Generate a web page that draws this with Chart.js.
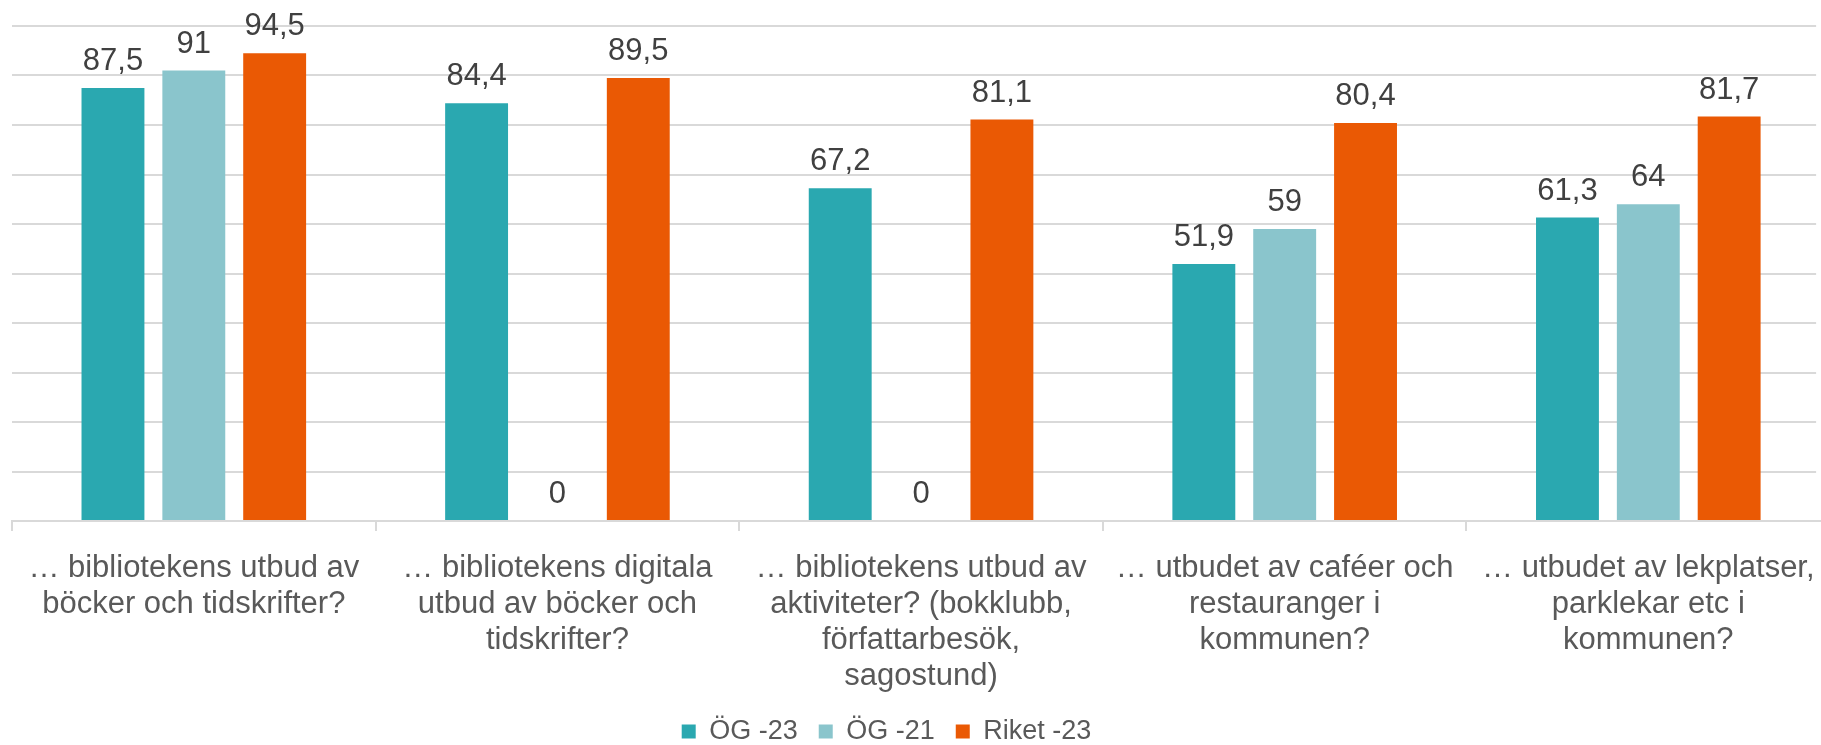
<!DOCTYPE html>
<html>
<head>
<meta charset="utf-8">
<script src="https://cdn.jsdelivr.net/npm/chart.js@4"></script>
<style>
  html, body { margin: 0; padding: 0; background: #fff; }
</style>
</head>
<body>
<canvas id="chart" width="1821" height="745"></canvas>
<script>
// data
const categories = [
    ['… bibliotekens utbud av', 'böcker och tidskrifter?'],
    ['… bibliotekens digitala', 'utbud av böcker och', 'tidskrifter?'],
    ['… bibliotekens utbud av', 'aktiviteter? (bokklubb,', 'författarbesök,', 'sagostund)'],
    ['… utbudet av caféer och', 'restauranger i', 'kommunen?'],
    ['… utbudet av lekplatser,', 'parklekar etc i', 'kommunen?']
];
const og23  = [87.5, 84.4, 67.2, 51.9, 61.3];
const og21  = [91, 0, 0, 59, 64];
const riket = [94.5, 89.5, 81.1, 80.4, 81.7];

const FONT = "'Liberation Sans', Arial, sans-serif";

// value labels above bars
const valueLabels = {
    id: 'valueLabels',
    afterDatasetsDraw(chart) {
        const ctx = chart.ctx;
        ctx.save();
        ctx.font = '31px ' + FONT;
        ctx.fillStyle = '#404040';
        ctx.textAlign = 'center';
        ctx.textBaseline = 'alphabetic';
        chart.data.datasets.forEach((ds, i) => {
            chart.getDatasetMeta(i).data.forEach((bar, j) => {
                const txt = String(ds.data[j]).replace('.', ',');
                ctx.fillText(txt, bar.x, bar.y - 18);
            });
        });
        ctx.restore();
    }
};

// layout tweaks: fixed legend height, legend a bit left of centre,
// and the category axis running slightly past the right edge
const layoutTweaks = {
    id: 'layoutTweaks',
    beforeUpdate(chart) {
        const lg = chart.legend;
        if (lg && !lg._fixed) {
            const fit = lg.fit;
            lg.fit = function () {
                fit.call(this);
                this.height = 48;
            };
            lg._fixed = true;
        }
    },
    afterLayout(chart) {
        chart.legend.left -= 30;
        chart.legend.right -= 30;

        const x = chart.scales.x;
        x.right += 14;
        x.width += 14;
        x.configure();
    }
};

const gridColor = '#d9d9d9';

new Chart(document.getElementById('chart'), {
    type: 'bar',
    data: {
        labels: categories,
        datasets: [
            { label: 'ÖG -23',    data: og23,  backgroundColor: '#2aa8b0' },
            { label: 'ÖG -21',    data: og21,  backgroundColor: '#8ac5cc' },
            { label: 'Riket -23', data: riket, backgroundColor: '#ea5904' }
        ]
    },
    options: {
        responsive: false,
        animation: false,
        categoryPercentage: 0.667,
        barPercentage: 0.778,
        layout: {
            padding: { top: 26, left: 12, right: 0, bottom: 0 }
        },
        plugins: {
            legend: {
                position: 'bottom',
                labels: {
                    boxWidth: 14,
                    boxHeight: 14,
                    color: '#595959',
                    font: { family: FONT, size: 27 },
                    padding: 21
                }
            },
            tooltip: { enabled: false }
        },
        scales: {
            x: {
                afterFit(scale) {
                    scale.height = 176;
                },
                grid: {
                    drawOnChartArea: false,
                    drawTicks: true,
                    tickLength: 10,
                    color: gridColor,
                    lineWidth: 2
                },
                border: { color: gridColor, width: 2 },
                ticks: {
                    color: '#595959',
                    font: { family: FONT, size: 31, lineHeight: 1.161 },
                    maxRotation: 0,
                    autoSkip: false,
                    padding: 19
                }
            },
            y: {
                min: 0,
                max: 100,
                ticks: { display: false, stepSize: 10 },
                grid: { color: gridColor, lineWidth: 2, drawTicks: false },
                border: { display: false }
            }
        }
    },
    plugins: [valueLabels, layoutTweaks]
});
</script>
</body>
</html>
